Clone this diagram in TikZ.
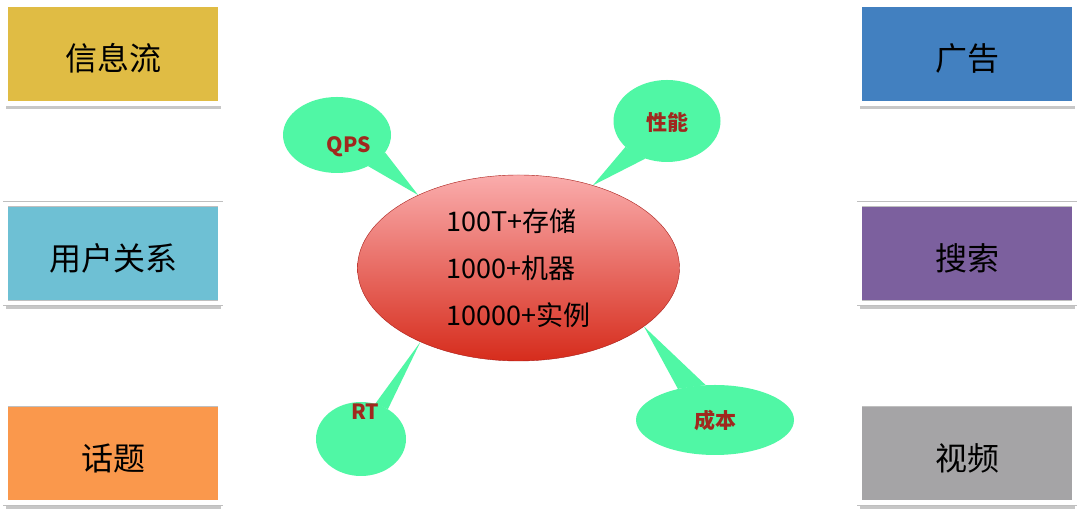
\documentclass[tikz,border=0pt]{standalone}
\usepackage{fontspec}
\setmainfont{Noto Sans CJK SC}
\usetikzlibrary{positioning,shapes}

\definecolor{feedYellow}{RGB}{224,188,68}
\definecolor{relationCyan}{RGB}{110,192,212}
\definecolor{topicOrange}{RGB}{250,152,76}
\definecolor{adBlue}{RGB}{66,128,192}
\definecolor{searchPurple}{RGB}{124,96,158}
\definecolor{videoGrey}{RGB}{165,164,166}
\definecolor{coreTop}{RGB}{250,172,172}
\definecolor{coreBottom}{RGB}{214,44,28}
\definecolor{coreEdge}{RGB}{170,30,25}
\definecolor{bubbleGreen}{RGB}{80,247,165}
\definecolor{bubbleText}{RGB}{160,40,30}

\begin{document}
\begin{tikzpicture}[x=1pt,y=1pt]

    %
    % Styles for boxes, core and bubbles
    %
    \tikzstyle{boxName} = [align=center, font={\fontsize{32}{36}\selectfont}, text=black, text height=34pt, text depth=0pt];
    \tikzstyle{bizBox} = [boxName, rectangle, draw=black!25, double=white, double distance=4.5pt, line width=0.6pt,
                          minimum width=215pt, minimum height=99pt, node distance=100pt,
                          preaction={fill=black!22, transform canvas={yshift=-6pt}}];
    \tikzstyle{core} = [ellipse, draw=coreEdge, thin, minimum width=322pt, minimum height=186pt,
                        top color=coreTop, bottom color=coreBottom, align=left, font={\fontsize{27}{47}\selectfont}];
    \tikzstyle{bubble} = [ellipse, fill=bubbleGreen, inner sep=0pt];
    \tikzstyle{bubbleName} = [font={\bfseries\fontsize{21}{24}\selectfont}, text=bubbleText];
    \tikzstyle{bubbleTail} = [fill=bubbleGreen];

    \useasboundingbox[fill=white] (0,0) rectangle (1080,518);

    %
    % Position boxes
    %
    \node[bizBox, fill=feedYellow, name=feed] at (113,464) {信息流};
    \node[bizBox, fill=relationCyan, name=relation, below=of feed] {用户关系};
    \node[bizBox, fill=topicOrange, name=topic, below=of relation] {话题};
    \node[bizBox, fill=adBlue, name=ad] at (967,464) {广告};
    \node[bizBox, fill=searchPurple, name=search, below=of ad] {搜索};
    \node[bizBox, fill=videoGrey, name=video, below=of search] {视频};

    %
    % Core and bubbles
    %
    \node[core, name=core] at (518.5,250) {100T+存储\\1000+机器\\10000+实例};
    \node[bubble, minimum width=108pt, minimum height=76pt, name=qpsBubble] at (337,383) {};
    \node[bubble, minimum width=107pt, minimum height=82pt, name=perfBubble] at (667,397) {};
    \node[bubble, minimum width=90pt, minimum height=74pt, name=rtBubble] at (361,79) {};
    \node[bubble, minimum width=158pt, minimum height=70pt, name=costBubble] at (715,98) {};

    %
    % Tails from bubbles to core
    %
    \fill[bubbleTail] (qpsBubble.-20) -- (core.144.5) -- (qpsBubble.-45) -- cycle;
    \fill[bubbleTail] (perfBubble.212) -- (core.48.3) -- (perfBubble.240) -- cycle;
    \fill[bubbleTail] (rtBubble.48) -- (core.217.7) -- (rtBubble.68) -- cycle;
    \fill[bubbleTail] (costBubble.105) -- (core.-25.2) -- (costBubble.140) -- cycle;

    \node[bubbleName, name=qps] at (349,371) {QPS};
    \node[bubbleName, name=perf] at (667,396) {性能};
    \node[bubbleName, name=rt] at (365,106) {RT};
    \node[bubbleName, name=cost] at (715,97) {成本};
  \end{tikzpicture}
\end{document}
